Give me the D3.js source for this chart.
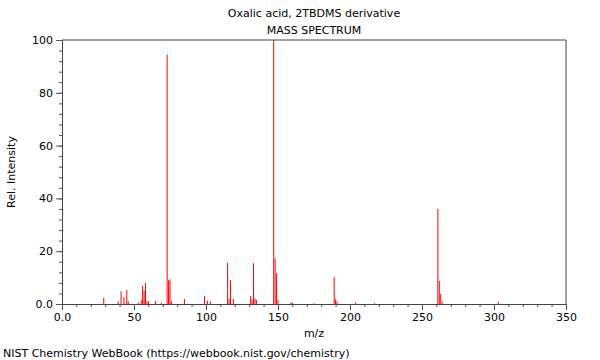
<!DOCTYPE html>
<html>
<head>
<meta charset="utf-8">
<script src="https://cdn.jsdelivr.net/npm/d3@7"></script>
<style>
  body { margin: 0; background: #fff; }
  svg { font-family: "DejaVu Sans", sans-serif; }
</style>
</head>
<body>
<div id="chart"></div>
<script>
// Peak list: m/z and relative intensity.
const mzValues = [29, 39, 41, 43, 45, 46, 53, 55, 56, 57, 58, 59, 60, 65, 69,
  73, 74, 75, 76, 85, 99, 101, 103, 115, 116, 117, 119, 131, 132, 133, 134, 135,
  147, 148, 149, 150, 159, 160, 175, 189, 190, 191, 204, 217, 261, 262, 263, 264, 303];
const intensities = [2.3, 1.0, 4.8, 2.6, 5.3, 1.0, 0.5, 1.5, 6.9, 5.0, 8.0, 1.0, 1.0, 1.2, 0.5,
  94.5, 9.0, 9.3, 1.0, 1.9, 3.0, 1.2, 1.0, 15.6, 2.0, 9.1, 1.9, 3.0, 1.5, 15.4, 2.1, 1.5,
  100, 17.2, 11.6, 1.5, 0.5, 0.6, 0.3, 10.3, 1.8, 1.0, 0.6, 0.3, 36, 8.8, 3.8, 0.9, 0.8];

const xTicks = [0, 50, 100, 150, 200, 250, 300, 350];
const yTicks = [0, 20, 40, 60, 80, 100];
const titleLines = ['Oxalic acid, 2TBDMS derivative', 'MASS SPECTRUM'];

const width = 600, height = 360;
const margin = { top: 40, right: 34, bottom: 56, left: 62 };
const plotW = width - margin.left - margin.right;
const plotH = height - margin.top - margin.bottom;

const svg = d3.select('#chart').append('svg')
  .attr('width', width)
  .attr('height', height);

const x = d3.scaleLinear().domain([0, 350]).range([margin.left, margin.left + plotW]);
const y = d3.scaleLinear().domain([0, 100]).range([margin.top + plotH, margin.top]);

const fmt = d => (d === 0 ? '0.0' : String(d));

// minor ticks first, then the labelled ones
svg.append('g')
  .attr('transform', `translate(0,${margin.top + plotH})`)
  .call(d3.axisBottom(x).tickValues(d3.range(0, 351, 10)).tickSize(3).tickFormat(''))
  .call(g => g.select('.domain').remove());
svg.append('g')
  .attr('transform', `translate(${margin.left},0)`)
  .call(d3.axisLeft(y).tickValues(d3.range(0, 101, 4)).tickSize(3).tickFormat(''))
  .call(g => g.select('.domain').remove());

const xAxis = svg.append('g')
  .attr('transform', `translate(0,${margin.top + plotH})`)
  .call(d3.axisBottom(x).tickValues(xTicks).tickSize(6).tickFormat(fmt).tickPadding(3));
const yAxis = svg.append('g')
  .attr('transform', `translate(${margin.left},0)`)
  .call(d3.axisLeft(y).tickValues(yTicks).tickSize(6).tickFormat(fmt).tickPadding(3));

svg.selectAll('.tick line').attr('stroke', '#555');
svg.selectAll('.tick text').attr('font-size', 11).attr('fill', '#000')
  .attr('font-family', '"DejaVu Sans", sans-serif');
svg.selectAll('.domain').attr('stroke', '#444');

// frame top and right
svg.append('path')
  .attr('d', `M${x(0)},${y(100)}H${x(350)}V${y(0)}`)
  .attr('fill', 'none')
  .attr('stroke', '#444');

// peaks
svg.append('g')
  .selectAll('line')
  .data(mzValues.map((m, i) => ({ m, v: intensities[i] })))
  .join('line')
  .attr('x1', d => x(d.m))
  .attr('x2', d => x(d.m))
  .attr('y1', y(0))
  .attr('y2', d => y(d.v))
  .attr('stroke', '#ff0000')
  .attr('stroke-width', 1);

// titles and labels
svg.append('g')
  .selectAll('text')
  .data(titleLines)
  .join('text')
  .attr('x', (x(0) + x(350)) / 2)
  .attr('y', (d, i) => 17 + i * 17)
  .attr('text-anchor', 'middle')
  .attr('font-size', 11)
  .text(d => d);

svg.append('text')
  .attr('x', (x(0) + x(350)) / 2)
  .attr('y', 337)
  .attr('text-anchor', 'middle')
  .attr('font-size', 11)
  .text('m/z');

svg.append('text')
  .attr('transform', `translate(15,${(y(0) + y(100)) / 2}) rotate(-90)`)
  .attr('text-anchor', 'middle')
  .attr('font-size', 11)
  .text('Rel. Intensity');

svg.append('text')
  .attr('x', 3)
  .attr('y', 357)
  .attr('font-size', 11)
  .text('NIST Chemistry WebBook (https://webbook.nist.gov/chemistry)');
</script>
</body>
</html>
